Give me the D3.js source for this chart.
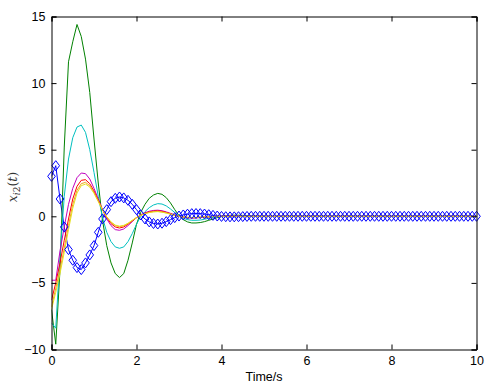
<!DOCTYPE html>
<html><head><meta charset="utf-8">
<script src="https://cdn.jsdelivr.net/npm/d3@7"></script>
<style>body{margin:0;background:#fff}</style>
</head><body>
<svg id="c" width="499" height="390"></svg>
<script>
// sample grid: 0 .. 10 s, step 0.1
const time = d3.range(0, 101).map(i => i / 10);
const xTicks = [0, 2, 4, 6, 8, 10];
const yTicks = [-10, -5, 0, 5, 10, 15];
const yTickLabels = ["\u221210", "\u22125", "0", "5", "10", "15"];

const green = [-7.0,-9.6,-4.0,5.2,11.6,13.1,14.4,13.5,11.8,9.3,5.8,2.5,-0.3,-2.2,-3.5,-4.3,-4.6,-4.3,-3.3,-2.0,-0.6,0.3,0.9,1.35,1.6,1.72,1.65,1.4,1.0,0.5,0.05,-0.25,-0.42,-0.5,-0.5,-0.47,-0.4,-0.3,-0.2,-0.1,-0.02,0.04,0.07,0.08,0.08,0.07,0.05,0.03,0.01,0,-0.01,-0.01,-0.01,-0.01,0,0,0,0,0,0,0,0,0,0,0,0,0,0,0,0,0,0,0,0,0,0,0,0,0,0,0,0,0,0,0,0,0,0,0,0,0,0,0,0,0,0,0,0,0,0,0];
const cyan = [-8.0,-8.4,-3.0,1.5,4.3,5.9,6.7,6.85,6.3,5.0,3.3,1.5,-0.1,-1.2,-1.9,-2.3,-2.4,-2.3,-1.9,-1.3,-0.6,0.0,0.35,0.65,0.85,0.95,0.92,0.78,0.55,0.28,0.02,-0.15,-0.25,-0.3,-0.3,-0.28,-0.22,-0.15,-0.08,-0.02,0.02,0.04,0.05,0.05,0.04,0.03,0.02,0.01,0,0,0,0,0,0,0,0,0,0,0,0,0,0,0,0,0,0,0,0,0,0,0,0,0,0,0,0,0,0,0,0,0,0,0,0,0,0,0,0,0,0,0,0,0,0,0,0,0,0,0,0,0];
const magenta = [-4.8,-4.8,-2.6,-0.8,0.9,2.1,2.9,3.25,3.2,2.8,2.1,1.3,0.5,-0.2,-0.7,-1.0,-1.05,-0.95,-0.7,-0.4,-0.1,0.12,0.27,0.38,0.44,0.46,0.42,0.33,0.22,0.1,0.0,-0.07,-0.11,-0.13,-0.12,-0.1,-0.07,-0.04,-0.02,0,0.01,0.02,0.02,0.02,0.01,0,0,0,0,0,0,0,0,0,0,0,0,0,0,0,0,0,0,0,0,0,0,0,0,0,0,0,0,0,0,0,0,0,0,0,0,0,0,0,0,0,0,0,0,0,0,0,0,0,0,0,0,0,0,0,0];
const red = [-6.3,-5.0,-3.5,-1.8,-0.2,1.3,2.25,2.7,2.75,2.45,1.9,1.2,0.5,-0.1,-0.55,-0.8,-0.88,-0.8,-0.6,-0.35,-0.1,0.08,0.22,0.33,0.39,0.41,0.37,0.29,0.19,0.09,0.0,-0.06,-0.09,-0.11,-0.1,-0.08,-0.06,-0.04,-0.02,0,0.01,0.01,0.02,0.01,0.01,0,0,0,0,0,0,0,0,0,0,0,0,0,0,0,0,0,0,0,0,0,0,0,0,0,0,0,0,0,0,0,0,0,0,0,0,0,0,0,0,0,0,0,0,0,0,0,0,0,0,0,0,0,0,0,0];
const orange = [-6.8,-5.4,-4.0,-2.4,-0.7,0.9,1.95,2.45,2.55,2.3,1.8,1.15,0.5,-0.05,-0.45,-0.7,-0.78,-0.72,-0.55,-0.32,-0.1,0.08,0.2,0.3,0.35,0.37,0.33,0.26,0.17,0.08,0.0,-0.05,-0.08,-0.1,-0.09,-0.07,-0.05,-0.03,-0.01,0,0.01,0.01,0.01,0.01,0,0,0,0,0,0,0,0,0,0,0,0,0,0,0,0,0,0,0,0,0,0,0,0,0,0,0,0,0,0,0,0,0,0,0,0,0,0,0,0,0,0,0,0,0,0,0,0,0,0,0,0,0,0,0,0,0];
const yellow = [-7.0,-5.7,-4.3,-2.7,-1.0,0.6,1.75,2.3,2.42,2.2,1.72,1.1,0.48,-0.05,-0.42,-0.66,-0.74,-0.68,-0.52,-0.3,-0.09,0.07,0.19,0.28,0.33,0.35,0.31,0.24,0.16,0.07,0.0,-0.05,-0.07,-0.09,-0.08,-0.06,-0.05,-0.03,-0.01,0,0,0,0,0,0,0,0,0,0,0,0,0,0,0,0,0,0,0,0,0,0,0,0,0,0,0,0,0,0,0,0,0,0,0,0,0,0,0,0,0,0,0,0,0,0,0,0,0,0,0,0,0,0,0,0,0,0,0,0,0,0];
const blue = [3.0,3.8,1.3,-0.8,-2.5,-3.3,-3.85,-4.0,-3.5,-2.9,-2.2,-1.2,-0.2,0.5,1.1,1.35,1.45,1.38,1.2,0.9,0.5,0.1,-0.2,-0.42,-0.54,-0.58,-0.52,-0.4,-0.25,-0.1,0.02,0.1,0.16,0.2,0.21,0.2,0.17,0.12,0.07,0.02,-0.01,-0.03,-0.04,-0.04,-0.03,-0.02,-0.01,0,0,0,0,0,0,0,0,0,0,0,0,0,0,0,0,0,0,0,0,0,0,0,0,0,0,0,0,0,0,0,0,0,0,0,0,0,0,0,0,0,0,0,0,0,0,0,0,0,0,0,0,0,0];

const lineSeries = [
  {values: green, color: "#008000"},
  {values: cyan, color: "#00bfbf"},
  {values: magenta, color: "#bf00bf"},
  {values: red, color: "#ff0000"},
  {values: orange, color: "#eea020"},
  {values: yellow, color: "#e6e020"}
];

const L = 51.5, R = 476.5, T = 16.5, B = 349.5;
const svg = d3.select("#c");
const x = d3.scaleLinear().domain([0, 10]).range([L, R]);
const y = d3.scaleLinear().domain([-10, 15]).range([B, T]);

svg.append("defs").append("clipPath").attr("id", "clip")
  .append("rect").attr("x", L).attr("y", T).attr("width", R - L).attr("height", B - T);

const plot = svg.append("g").attr("clip-path", "url(#clip)");
const line = d3.line().x((d, i) => x(time[i])).y(d => y(d));

// blue with diamond markers
plot.append("path").datum(blue).attr("d", line)
  .attr("fill", "none").attr("stroke", "#0000ff").attr("stroke-width", 1);
const dia = "M0,-5L3.8,0L0,5L-3.8,0Z";
svg.selectAll(".mk").data(blue).enter().append("path")
  .attr("class", "mk")
  .attr("transform", (d, i) => `translate(${x(time[i])},${y(d)})`)
  .attr("d", dia).attr("fill", "none").attr("stroke", "#0000ff").attr("stroke-width", 1);

lineSeries.forEach(s => {
  plot.append("path").datum(s.values).attr("d", line)
    .attr("fill", "none").attr("stroke", s.color).attr("stroke-width", 1);
});

const font = "'Liberation Sans', Arial, sans-serif";
// axes
const gx = svg.append("g").attr("transform", `translate(0,${B})`)
  .call(d3.axisBottom(x).tickValues(xTicks).tickSize(-5).tickPadding(7).tickFormat(d3.format("d")));
const gxt = svg.append("g").attr("transform", `translate(0,${T})`)
  .call(d3.axisTop(x).tickValues(xTicks).tickSize(-5).tickFormat(""));
const gy = svg.append("g").attr("transform", `translate(${L},0)`)
  .call(d3.axisLeft(y).tickValues(yTicks).tickSize(-5).tickPadding(6).tickFormat((d, i) => yTickLabels[i]));
const gyr = svg.append("g").attr("transform", `translate(${R},0)`)
  .call(d3.axisRight(y).tickValues(yTicks).tickSize(-5).tickFormat(""));
[gx, gxt, gy, gyr].forEach(g => {
  g.selectAll("path.domain").attr("stroke", "#000").attr("stroke-width", 1);
  g.selectAll("line").attr("stroke", "#000");
  g.selectAll("text").attr("fill", "#000").style("font-family", font).style("font-size", "12.5px");
});

svg.append("text").attr("x", (L + R) / 2).attr("y", 381)
  .attr("text-anchor", "middle").style("font-family", font).style("font-size", "12.5px")
  .text("Time/s");

const yl = svg.append("text")
  .attr("transform", `translate(17,${(T + B) / 2 + 4}) rotate(-90)`)
  .attr("text-anchor", "middle").attr("fill", "#333")
  .style("font-family", "'DejaVu Serif', 'Liberation Serif', serif").style("font-size", "12.5px");
yl.append("tspan").style("font-style", "italic").text("x");
yl.append("tspan").attr("dy", 3).style("font-size", "9px").style("font-style", "italic").text("i");
yl.append("tspan").style("font-size", "9px").text("2");
yl.append("tspan").attr("dy", -3).text("(");
yl.append("tspan").style("font-style", "italic").text("t");
yl.append("tspan").text(")");
</script>
</body></html>
